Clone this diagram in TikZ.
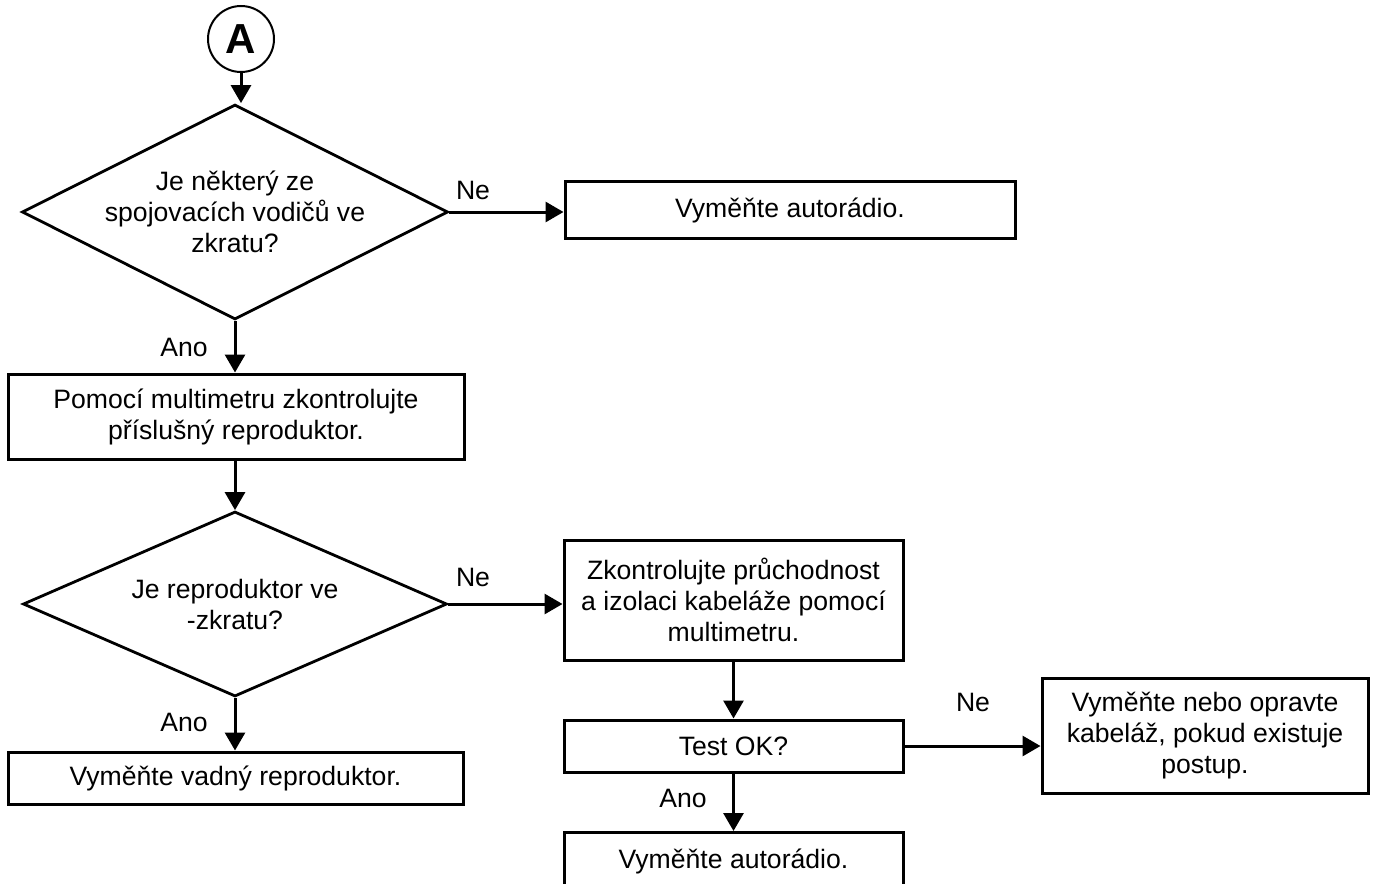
\documentclass[tikz,border=0pt]{standalone}
\usepackage{fontspec}
\setmainfont{Liberation Sans}
\usetikzlibrary{arrows.meta,shapes.geometric}

\tikzset{
  box/.style={draw, line width=1.5pt, inner sep=2pt, align=center},
  decision/.style={diamond, draw, line width=1.4pt, aspect=2, inner sep=0pt, align=center},
  arr/.style={line width=1.5pt, -{Triangle[width=10pt,length=9pt]}},
}

\begin{document}
\begin{tikzpicture}[x=0.5pt, y=-0.5pt, font=\fontsize{13.3}{15.5}\selectfont]
  \useasboundingbox (0,0) rectangle (1374,883);
  \clip (0,0) rectangle (1374,883);

  \node[circle, draw, line width=1pt, minimum size=33pt, inner sep=0pt,
        font=\fontsize{21}{21}\bfseries\selectfont] (A) at (241,39) {A};

  \node[decision, minimum width=213pt, minimum height=107.5pt] (q1) at (235,212)
       {Je některý ze\\spojovacích vodičů ve\\zkratu?};
  \node[box, minimum width=225pt, minimum height=28.5pt] (radio1) at (790,210)
       {Vyměňte autorádio.};
  \node[box, minimum width=228pt, minimum height=42.5pt] (meas) at (236,416.5)
       {Pomocí multimetru zkontrolujte\\příslušný reproduktor.};
  \node[decision, minimum width=212pt, minimum height=92.5pt] (q2) at (235,604)
       {Je reproduktor ve\\-zkratu?};
  \node[box, minimum width=227.5pt, minimum height=26pt] (spk) at (235.5,778)
       {Vyměňte vadný reproduktor.};
  \node[box, minimum width=169.5pt, minimum height=60pt] (wire) at (733.5,600)
       {Zkontrolujte průchodnost\\a izolaci kabeláže pomocí\\multimetru.};
  \node[box, minimum width=169.5pt, minimum height=26pt] (test) at (733.5,746)
       {Test OK?};
  \node[box, minimum width=163pt, minimum height=57.5pt] (fix) at (1205,735.5)
       {Vyměňte nebo opravte\\kabeláž, pokud existuje\\postup.};
  \node[box, minimum width=169.5pt, minimum height=28.5pt] (radio2) at (733.5,861)
       {Vyměňte autorádio.};

  \draw[arr] (A) -- (A |- q1.north);
  \draw[arr] (q1.east) -- (q1.east -| radio1.west);
  \draw[arr] (q1.south) -- (q1.south |- meas.north);
  \draw[arr] (q2.north |- meas.south) -- (q2.north);
  \draw[arr] (q2.east) -- (q2.east -| wire.west);
  \draw[arr] (q2.south) -- (q2.south |- spk.north);
  \draw[arr] (wire.south) -- (test.north);
  \draw[arr] (test.east) -- (test.east -| fix.west);
  \draw[arr] (test.south) -- (radio2.north);

  \node (ne1) at (473,190) {Ne};
  \node (ano1) at (184,347) {Ano};
  \node (ne2) at (473,577) {Ne};
  \node (ano2) at (184,722) {Ano};
  \node (ne3) at (973,702) {Ne};
  \node (ano3) at (683,798) {Ano};
\end{tikzpicture}
\end{document}
